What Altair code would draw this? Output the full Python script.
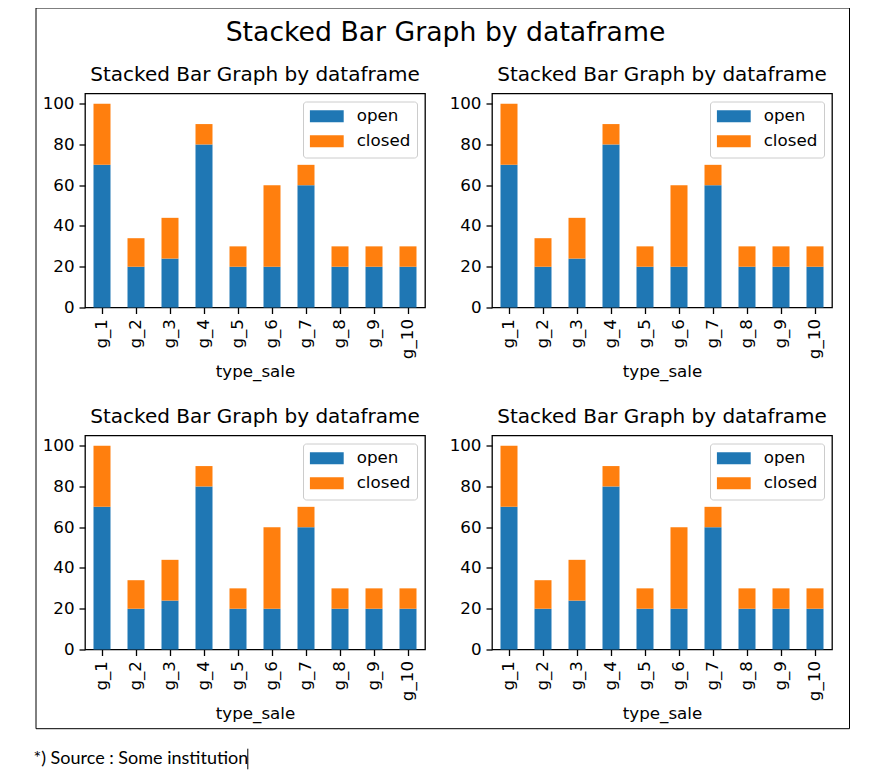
import altair as alt
import pandas as pd

# ---- data ----
categories = ["g_1", "g_2", "g_3", "g_4", "g_5", "g_6", "g_7", "g_8", "g_9", "g_10"]
open_vals = [70, 20, 24, 80, 20, 20, 60, 20, 20, 20]
closed_vals = [30, 14, 20, 10, 10, 40, 10, 10, 10, 10]
series_names = ["open", "closed"]
series_colors = ["#1f77b4", "#ff7f0e"]
y_ticks = [0, 20, 40, 60, 80, 100]
panel_title = "Stacked Bar Graph by dataframe"
suptitle = "Stacked Bar Graph by dataframe"
x_title = "type_sale"
footnote = "*) Source : Some institution"

rows = []
for i, c in enumerate(categories):
    rows.append({"type_sale": c, "series": series_names[0], "value": open_vals[i], "ord": 0})
    rows.append({"type_sale": c, "series": series_names[1], "value": closed_vals[i], "ord": 1})
df = pd.DataFrame(rows)

FONT = "DejaVu Sans"
W, H = 340, 214
HSP, VSP = 67, 128
ROW3 = 2 * (H + VSP)  # y offset of decoration cell


def panel():
    return alt.Chart(df).mark_bar().encode(
        x=alt.X(
            "type_sale:N",
            sort=categories,
            scale=alt.Scale(paddingInner=0.5, paddingOuter=0.25),
            axis=alt.Axis(title=x_title, labelAngle=270, labelAlign="right", labelBaseline="middle"),
        ),
        y=alt.Y(
            "value:Q",
            stack="zero",
            scale=alt.Scale(domain=[0, 105], nice=False),
            axis=alt.Axis(title=None, values=y_ticks),
        ),
        color=alt.Color(
            "series:N",
            scale=alt.Scale(domain=series_names, range=series_colors),
            legend=alt.Legend(
                title=None,
                orient="top-right",
                offset=8,
                padding=6.7,
                fillColor="rgba(255,255,255,0.8)",
                strokeColor="#cccccc",
                cornerRadius=3,
                symbolType="M-1,-0.35L1,-0.35L1,0.35L-1,0.35Z",
                symbolSize=1156,
                symbolStrokeWidth=0,
                symbolOpacity=1,
                labelFont=FONT,
                labelFontSize=16.7,
                labelColor="black",
                labelOffset=13,
                clipHeight=16,
                rowPadding=8,
            ),
        ),
        order=alt.Order("ord:Q", sort="ascending"),
    ).properties(
        width=W,
        height=H,
        title=alt.TitleParams(panel_title),
        view=alt.ViewBackground(stroke="black", strokeWidth=1.3),
    )


# ---- decorations: figure frame, suptitle, footnote ----
deco_df = pd.DataFrame({"k": [0]})
dbase = alt.Chart(deco_df)
frame = dbase.mark_rect(fillOpacity=0, stroke="black", strokeWidth=1).encode(
    x=alt.value(-49), x2=alt.value(764.5),
    y=alt.value(-85.5 - ROW3), y2=alt.value(635.2 - ROW3),
)
sup = dbase.mark_text(
    text=suptitle, font=FONT, fontSize=26.7, align="center", baseline="alphabetic", color="black"
).encode(x=alt.value(360.5), y=alt.value(-52.5 - ROW3))
foot = dbase.mark_text(
    text=footnote, font="Lato", fontSize=18, align="left", baseline="alphabetic", color="black"
).encode(x=alt.value(-51.5), y=alt.value(670.8 - ROW3))
cursor = dbase.mark_rule(color="black", strokeWidth=1).encode(
    x=alt.value(162.8), y=alt.value(655.2 - ROW3), y2=alt.value(675.8 - ROW3)
)
deco = alt.layer(frame, sup, foot, cursor).properties(
    width=1, height=1, view=alt.ViewBackground(stroke="transparent")
)

chart = alt.concat(
    panel(), panel(), panel(), panel(), deco,
    columns=2,
    spacing={"row": VSP, "column": HSP},
    bounds="flush",
).resolve_legend(color="independent").properties(
    padding={"left": 25, "top": -1.5, "right": 5, "bottom": 5},
    background="white",
).configure(font=FONT).configure_axis(
    labelFont=FONT, labelFontSize=16.7, labelColor="black",
    titleFont=FONT, titleFontSize=16.7, titleFontWeight="normal", titleColor="black",
    tickColor="black", tickSize=6, tickWidth=1.3, domain=False, grid=False,
    labelPadding=5, titlePadding=5,
).configure_title(
    font=FONT, fontSize=20, fontWeight="normal", color="black", anchor="middle",
    offset=8.5, baseline="alphabetic",
)

chart.save("out.html", embed_options={"renderer": "svg", "actions": False})
